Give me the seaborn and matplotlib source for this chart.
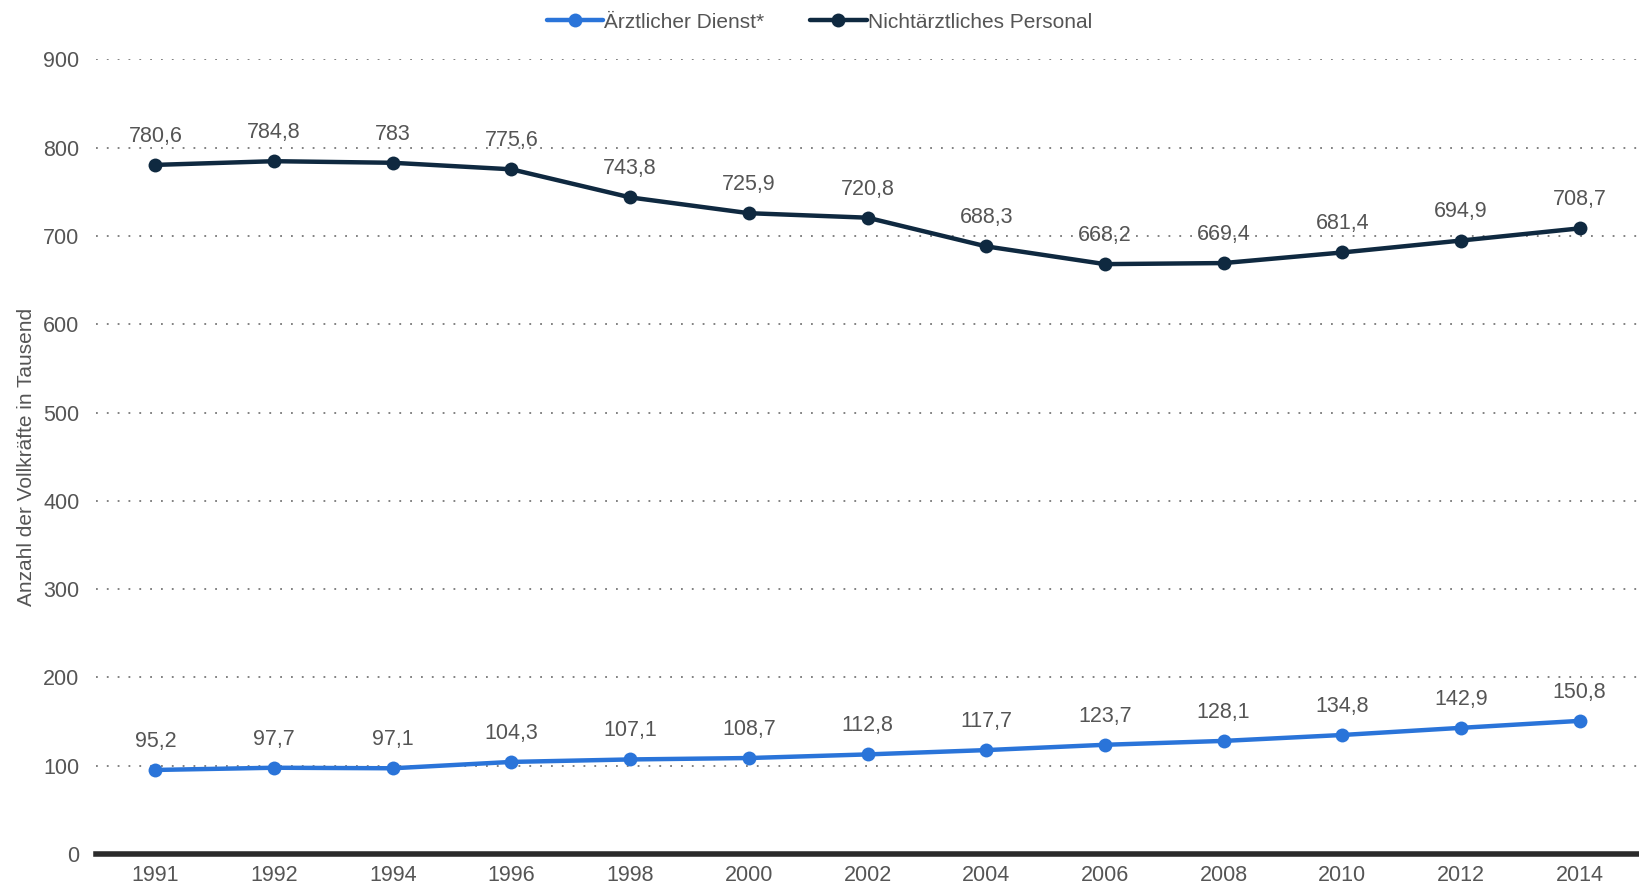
import matplotlib
matplotlib.use("Agg")
import matplotlib.pyplot as plt
import seaborn as sns
import pandas as pd

years = ["1991", "1992", "1994", "1996", "1998", "2000", "2002",
         "2004", "2006", "2008", "2010", "2012", "2014"]
aerztlich = [95.2, 97.7, 97.1, 104.3, 107.1, 108.7, 112.8,
             117.7, 123.7, 128.1, 134.8, 142.9, 150.8]
nichtaerztlich = [780.6, 784.8, 783, 775.6, 743.8, 725.9, 720.8,
                  688.3, 668.2, 669.4, 681.4, 694.9, 708.7]
series_names = ["Ärztlicher Dienst*", "Nichtärztliches Personal"]
colors = ["#2a74d9", "#0f2940"]
y_ticks = [0, 100, 200, 300, 400, 500, 600, 700, 800, 900]

sns.set_theme(style="white")
plt.rcParams["font.family"] = ["Liberation Sans", "DejaVu Sans"]

rows = []
for name, vals in zip(series_names, [aerztlich, nichtaerztlich]):
    for i, (yr, v) in enumerate(zip(years, vals)):
        rows.append({"pos": i, "Jahr": yr, "Wert": v, "Reihe": name})
df = pd.DataFrame(rows)

fig = plt.figure(figsize=(16.39, 8.88), dpi=100)
ax = fig.add_axes([0.0586, 0.0383, 0.9414, 0.8947])

sns.lineplot(data=df, x="pos", y="Wert", hue="Reihe", hue_order=series_names,
             palette=colors, marker="o", markersize=10, markeredgewidth=0,
             linewidth=3.2, sort=False, ax=ax, legend=False, zorder=3)

def fmt(v):
    s = f"{v:g}"
    return s.replace(".", ",")

for vals in [aerztlich, nichtaerztlich]:
    for i, v in enumerate(vals):
        ax.annotate(fmt(v), (i, v), xytext=(0, 13), textcoords="offset points",
                    ha="center", va="bottom", fontsize=15.5, color="#555555", zorder=4)

ax.set_xlim(-0.5, len(years) - 0.5)
ax.set_ylim(0, 900)
ax.set_xticks(range(len(years)))
ax.set_xticklabels(years)
ax.set_yticks(y_ticks)
ax.tick_params(axis="both", labelsize=15.5, colors="#555555", length=0, pad=12)
ax.tick_params(axis="x", pad=8)

for t in y_ticks[1:]:
    ax.axhline(t, color="#777777", linestyle=(0, (1, 5)), linewidth=1.3, zorder=1)

for s in ["top", "right", "left"]:
    ax.spines[s].set_visible(False)
ax.spines["bottom"].set_color("#2b2b2b")
ax.spines["bottom"].set_linewidth(4)
ax.spines["bottom"].set_zorder(5)

ax.set_xlabel("")
ax.set_ylabel("Anzahl der Vollkräfte in Tausend", fontsize=15, color="#555555", labelpad=5)

handles = [plt.Line2D([0], [0], color=c, marker="o", markersize=10, linewidth=3.2,
                      markeredgewidth=0) for c in colors]
fig.legend(handles, series_names, loc="center", bbox_to_anchor=(0.5, 0.975), ncol=2,
           frameon=False, fontsize=15, handlelength=2.7, handletextpad=0.05,
           columnspacing=2.2, labelcolor="#555555")

fig.savefig("out.png", dpi=100)
